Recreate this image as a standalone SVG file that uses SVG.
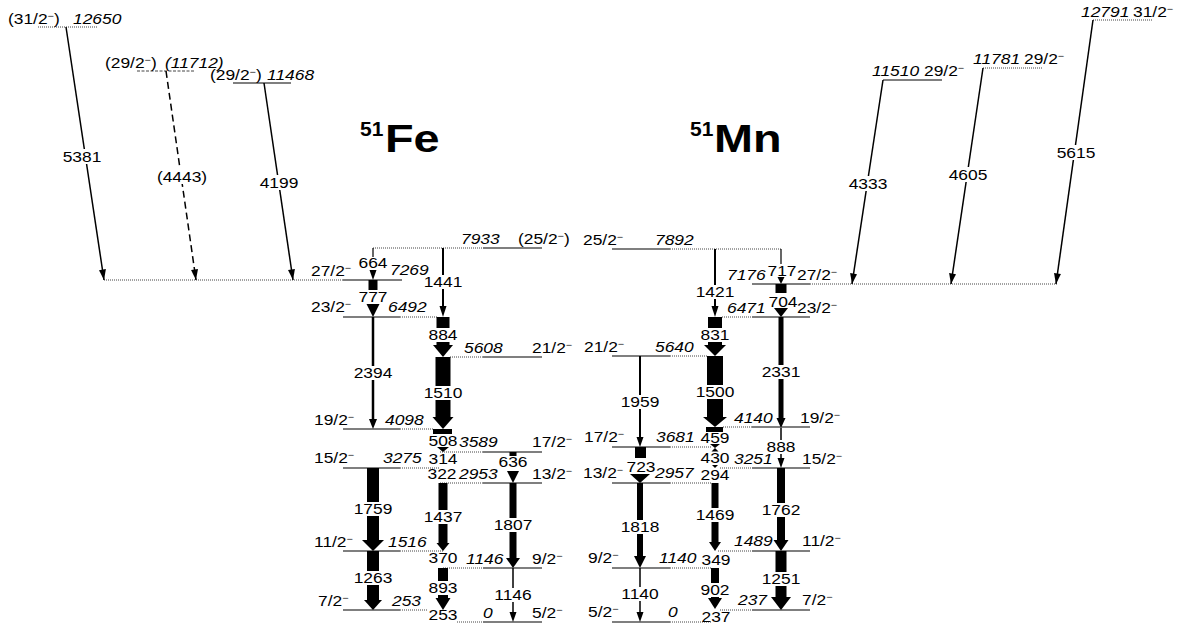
<svg xmlns="http://www.w3.org/2000/svg" width="1187" height="626" viewBox="0 0 1187 626">
<style>
.t{font-family:"Liberation Sans",Arial,sans-serif;font-size:14.5px;fill:#000}
.e{font-style:italic}
.m{text-anchor:middle}
.s{font-size:9px}
.ttl{font-family:"Liberation Sans",Arial,sans-serif;font-weight:bold;fill:#000}
.sl{stroke:#000;stroke-width:1.2;fill:none}
.dl{stroke:#444;stroke-width:1;stroke-dasharray:1 1;fill:none}
.dsh{stroke:#444;stroke-width:1;stroke-dasharray:3 1.5;fill:none}
.ln{stroke:#000;fill:none}
.bg{fill:#fff}
.k{fill:#000}
</style>
<defs>
<marker id="ah" viewBox="0 0 12 8" refX="12" refY="4" markerWidth="12" markerHeight="7" orient="auto" markerUnits="userSpaceOnUse"><path d="M0,0 L12,4 L0,8 z" fill="#000"/></marker>
</defs>
<rect width="1187" height="626" fill="#fff"/>

<g id="titles">
<text class="ttl" x="360" y="136" font-size="21">51</text>
<text class="ttl" font-size="39" transform="translate(385,152) scale(1.2,1)">Fe</text>
<text class="ttl" x="690" y="136" font-size="21">51</text>
<text class="ttl" font-size="39" transform="translate(714,152) scale(1.2,1)">Mn</text>
</g>

<!-- 51Fe levels -->
<g id="fe-12650"><line class="dl" x1="38" y1="27" x2="97" y2="27"/>
<text class="t" transform="translate(8,24) scale(1.2,1)">(31/2<tspan class="s" dy="-5">−</tspan><tspan dy="5">)</tspan></text>
<text class="t e" transform="translate(73,24) scale(1.2,1)">12650</text></g>
<g id="fe-11712"><line class="dsh" x1="137" y1="71" x2="195" y2="71"/>
<text class="t" transform="translate(105,68) scale(1.2,1)">(29/2<tspan class="s" dy="-5">−</tspan><tspan dy="5">)</tspan></text>
<text class="t e" transform="translate(165,68) scale(1.2,1)">(11712)</text></g>
<g id="fe-11468"><line class="sl" x1="233" y1="83" x2="291" y2="83"/>
<text class="t" transform="translate(210,80) scale(1.2,1)">(29/2<tspan class="s" dy="-5">−</tspan><tspan dy="5">)</tspan></text>
<text class="t e" transform="translate(267,80) scale(1.2,1)">11468</text></g>
<g id="fe-7933"><line class="dl" x1="373" y1="248" x2="483" y2="248"/><line class="sl" x1="483" y1="248" x2="542" y2="248"/>
<text class="t e" transform="translate(461,244) scale(1.2,1)">7933</text>
<text class="t" transform="translate(518,244) scale(1.2,1)">(25/2<tspan class="s" dy="-5">−</tspan><tspan dy="5">)</tspan></text></g>
<g id="fe-7269"><line class="dl" x1="104" y1="280" x2="343" y2="280"/><line class="sl" x1="343" y1="280" x2="402" y2="280"/>
<text class="t" transform="translate(311,276) scale(1.2,1)">27/2<tspan class="s" dy="-5">−</tspan></text>
<text class="t e" transform="translate(390,275) scale(1.2,1)">7269</text></g>
<g id="fe-6492"><line class="sl" x1="343" y1="317" x2="400" y2="317"/><line class="dl" x1="400" y1="317" x2="437" y2="317"/>
<text class="t" transform="translate(311,312) scale(1.2,1)">23/2<tspan class="s" dy="-5">−</tspan></text>
<text class="t e" transform="translate(388,312) scale(1.2,1)">6492</text></g>
<g id="fe-5608"><line class="dl" x1="450" y1="357" x2="483" y2="357"/><line class="sl" x1="483" y1="357" x2="542" y2="357"/>
<text class="t e" transform="translate(464,353) scale(1.2,1)">5608</text>
<text class="t" transform="translate(532,353) scale(1.2,1)">21/2<tspan class="s" dy="-5">−</tspan></text></g>
<g id="fe-4098"><line class="sl" x1="343" y1="429" x2="400" y2="429"/><line class="dl" x1="400" y1="429" x2="433" y2="429"/>
<text class="t" transform="translate(314,425) scale(1.2,1)">19/2<tspan class="s" dy="-5">−</tspan></text>
<text class="t e" transform="translate(385,425) scale(1.2,1)">4098</text></g>
<g id="fe-3589"><line class="dl" x1="440" y1="452" x2="483" y2="452"/><line class="sl" x1="483" y1="452" x2="542" y2="452"/>
<text class="t e" transform="translate(459,447) scale(1.2,1)">3589</text>
<text class="t" transform="translate(532,447) scale(1.2,1)">17/2<tspan class="s" dy="-5">−</tspan></text></g>
<g id="fe-3275"><line class="sl" x1="343" y1="468" x2="400" y2="468"/><line class="dl" x1="400" y1="468" x2="440" y2="468"/>
<text class="t" transform="translate(314,463) scale(1.2,1)">15/2<tspan class="s" dy="-5">−</tspan></text>
<text class="t e" transform="translate(383,463) scale(1.2,1)">3275</text></g>
<g id="fe-2953"><line class="dl" x1="440" y1="483" x2="483" y2="483"/><line class="sl" x1="483" y1="483" x2="542" y2="483"/>
<text class="t e" transform="translate(459,479) scale(1.2,1)">2953</text>
<text class="t" transform="translate(532,479) scale(1.2,1)">13/2<tspan class="s" dy="-5">−</tspan></text></g>
<g id="fe-1516"><line class="sl" x1="343" y1="551" x2="400" y2="551"/><line class="dl" x1="400" y1="551" x2="443" y2="551"/>
<text class="t" transform="translate(314,547) scale(1.2,1)">11/2<tspan class="s" dy="-5">−</tspan></text>
<text class="t e" transform="translate(388,547) scale(1.2,1)">1516</text></g>
<g id="fe-1146"><line class="dl" x1="443" y1="568" x2="483" y2="568"/><line class="sl" x1="483" y1="568" x2="542" y2="568"/>
<text class="t e" transform="translate(466,564) scale(1.2,1)">1146</text>
<text class="t" transform="translate(532,564) scale(1.2,1)">9/2<tspan class="s" dy="-5">−</tspan></text></g>
<g id="fe-253"><line class="sl" x1="343" y1="610" x2="400" y2="610"/><line class="dl" x1="400" y1="610" x2="428" y2="610"/>
<text class="t" transform="translate(318,606) scale(1.2,1)">7/2<tspan class="s" dy="-5">−</tspan></text>
<text class="t e" transform="translate(392,606) scale(1.2,1)">253</text></g>
<g id="fe-0"><line class="dl" x1="457" y1="622" x2="483" y2="622"/><line class="sl" x1="483" y1="622" x2="542" y2="622"/>
<text class="t e" transform="translate(483,618) scale(1.2,1)">0</text>
<text class="t" transform="translate(532,618) scale(1.2,1)">5/2<tspan class="s" dy="-5">−</tspan></text></g>

<!-- 51Mn levels -->
<g id="mn-11510"><line class="sl" x1="883" y1="80" x2="942" y2="80"/>
<text class="t e" transform="translate(872,76) scale(1.2,1)">11510</text>
<text class="t" transform="translate(924,76) scale(1.2,1)">29/2<tspan class="s" dy="-5">−</tspan></text></g>
<g id="mn-11781"><line class="dl" x1="983" y1="68" x2="1042" y2="68"/>
<text class="t e" transform="translate(973,64) scale(1.2,1)">11781</text>
<text class="t" transform="translate(1024,64) scale(1.2,1)">29/2<tspan class="s" dy="-5">−</tspan></text></g>
<g id="mn-12791"><line class="dl" x1="1093" y1="20" x2="1152" y2="20"/>
<text class="t e" transform="translate(1081,17) scale(1.2,1)">12791</text>
<text class="t" transform="translate(1133,17) scale(1.2,1)">31/2<tspan class="s" dy="-5">−</tspan></text></g>
<g id="mn-7892"><line class="sl" x1="612" y1="249" x2="670" y2="249"/><line class="dl" x1="670" y1="249" x2="781" y2="249"/>
<text class="t" transform="translate(583,245) scale(1.2,1)">25/2<tspan class="s" dy="-5">−</tspan></text>
<text class="t e" transform="translate(655,245) scale(1.2,1)">7892</text></g>
<g id="mn-7176"><line class="sl" x1="752" y1="284" x2="810" y2="284"/><line class="dl" x1="810" y1="284" x2="1057" y2="284"/>
<text class="t e" transform="translate(727,280) scale(1.2,1)">7176</text>
<text class="t" transform="translate(797,280) scale(1.2,1)">27/2<tspan class="s" dy="-5">−</tspan></text></g>
<g id="mn-6471"><line class="dl" x1="722" y1="317" x2="752" y2="317"/><line class="sl" x1="752" y1="317" x2="810" y2="317"/>
<text class="t e" transform="translate(727,313) scale(1.2,1)">6471</text>
<text class="t" transform="translate(797,313) scale(1.2,1)">23/2<tspan class="s" dy="-5">−</tspan></text></g>
<g id="mn-5640"><line class="sl" x1="612" y1="356" x2="670" y2="356"/><line class="dl" x1="670" y1="356" x2="707" y2="356"/>
<text class="t" transform="translate(584,352) scale(1.2,1)">21/2<tspan class="s" dy="-5">−</tspan></text>
<text class="t e" transform="translate(655,352) scale(1.2,1)">5640</text></g>
<g id="mn-4140"><line class="dl" x1="723" y1="427" x2="752" y2="427"/><line class="sl" x1="752" y1="427" x2="810" y2="427"/>
<text class="t e" transform="translate(734,423) scale(1.2,1)">4140</text>
<text class="t" transform="translate(800,423) scale(1.2,1)">19/2<tspan class="s" dy="-5">−</tspan></text></g>
<g id="mn-3681"><line class="sl" x1="612" y1="447" x2="670" y2="447"/><line class="dl" x1="670" y1="447" x2="712" y2="447"/>
<text class="t" transform="translate(584,442) scale(1.2,1)">17/2<tspan class="s" dy="-5">−</tspan></text>
<text class="t e" transform="translate(656,442) scale(1.2,1)">3681</text></g>
<g id="mn-3251"><line class="dl" x1="720" y1="468" x2="752" y2="468"/><line class="sl" x1="752" y1="468" x2="810" y2="468"/>
<text class="t e" transform="translate(734,464) scale(1.2,1)">3251</text>
<text class="t" transform="translate(802,464) scale(1.2,1)">15/2<tspan class="s" dy="-5">−</tspan></text></g>
<g id="mn-2957"><line class="sl" x1="612" y1="483" x2="670" y2="483"/><line class="dl" x1="670" y1="483" x2="712" y2="483"/>
<text class="t" transform="translate(583,478) scale(1.2,1)">13/2<tspan class="s" dy="-5">−</tspan></text>
<text class="t e" transform="translate(655,478) scale(1.2,1)">2957</text></g>
<g id="mn-1489"><line class="dl" x1="718" y1="551" x2="752" y2="551"/><line class="sl" x1="752" y1="551" x2="810" y2="551"/>
<text class="t e" transform="translate(734,546) scale(1.2,1)">1489</text>
<text class="t" transform="translate(802,546) scale(1.2,1)">11/2<tspan class="s" dy="-5">−</tspan></text></g>
<g id="mn-1140"><line class="sl" x1="612" y1="568" x2="670" y2="568"/><line class="dl" x1="670" y1="568" x2="712" y2="568"/>
<text class="t" transform="translate(588,563) scale(1.2,1)">9/2<tspan class="s" dy="-5">−</tspan></text>
<text class="t e" transform="translate(659,563) scale(1.2,1)">1140</text></g>
<g id="mn-237"><line class="dl" x1="720" y1="610" x2="752" y2="610"/><line class="sl" x1="752" y1="610" x2="810" y2="610"/>
<text class="t e" transform="translate(738,605) scale(1.2,1)">237</text>
<text class="t" transform="translate(802,605) scale(1.2,1)">7/2<tspan class="s" dy="-5">−</tspan></text></g>
<g id="mn-0"><line class="sl" x1="612" y1="622" x2="670" y2="622"/><line class="dl" x1="670" y1="622" x2="712" y2="622"/>
<text class="t" transform="translate(588,617) scale(1.2,1)">5/2<tspan class="s" dy="-5">−</tspan></text>
<text class="t e" transform="translate(668,617) scale(1.2,1)">0</text></g>

<g id="connectors">
<!-- long arrows -->
<line class="ln" stroke-width="1.5" x1="66" y1="27" x2="104" y2="280" marker-end="url(#ah)"/>
<rect class="bg" x="61" y="149" width="42" height="15"/>
<text class="t m" transform="translate(82,162) scale(1.2,1)">5381</text>
<line class="ln" stroke-width="1.5" stroke-dasharray="7 4" x1="166" y1="71" x2="196" y2="280" marker-end="url(#ah)"/>
<rect class="bg" x="155" y="169" width="54" height="15"/>
<text class="t m" transform="translate(182,182) scale(1.2,1)">(4443)</text>
<line class="ln" stroke-width="1.5" x1="264" y1="83" x2="293" y2="280" marker-end="url(#ah)"/>
<rect class="bg" x="258" y="175" width="42" height="15"/>
<text class="t m" transform="translate(279,188) scale(1.2,1)">4199</text>
<line class="ln" stroke-width="1.5" x1="883" y1="80" x2="852" y2="284" marker-end="url(#ah)"/>
<rect class="bg" x="847" y="176" width="42" height="15"/>
<text class="t m" transform="translate(868,189) scale(1.2,1)">4333</text>
<line class="ln" stroke-width="1.5" x1="983" y1="68" x2="951" y2="284" marker-end="url(#ah)"/>
<rect class="bg" x="947" y="167" width="42" height="15"/>
<text class="t m" transform="translate(968,180) scale(1.2,1)">4605</text>
<line class="ln" stroke-width="1.5" x1="1093" y1="20" x2="1056" y2="284" marker-end="url(#ah)"/>
<rect class="bg" x="1055" y="145" width="42" height="15"/>
<text class="t m" transform="translate(1076,158) scale(1.2,1)">5615</text>

<!-- 51Fe cascade x=373 -->
<line class="ln" stroke-width="1.2" x1="373" y1="248" x2="373" y2="257"/>
<text class="t m" transform="translate(373,268) scale(1.2,1)">664</text>
<polygon class="k" points="369.5,270 376.5,270 373,280"/>
<rect class="k" x="368.5" y="280" width="9" height="10"/>
<text class="t m" transform="translate(373,302) scale(1.2,1)">777</text>
<polygon class="k" points="366.5,304 379.5,304 373,317"/>
<line class="ln" stroke-width="2.5" x1="373" y1="317" x2="373" y2="420"/>
<rect class="bg" x="352" y="366" width="42" height="14"/>
<text class="t m" transform="translate(373,378) scale(1.2,1)">2394</text>
<polygon class="k" points="369,419 377,419 373,429"/>
<rect class="k" x="367" y="468" width="12" height="72"/>
<rect class="bg" x="352" y="502" width="42" height="14"/>
<text class="t m" transform="translate(373,514) scale(1.2,1)">1759</text>
<polygon class="k" points="362,540 384,540 373,551"/>
<rect class="k" x="367" y="551" width="12" height="49"/>
<rect class="bg" x="352" y="571" width="42" height="14"/>
<text class="t m" transform="translate(373,583) scale(1.2,1)">1263</text>
<polygon class="k" points="364,600 382,600 373,610"/>

<!-- 51Fe cascade x=443 -->
<line class="ln" stroke-width="2" x1="443" y1="248" x2="443" y2="307"/>
<rect class="bg" x="422" y="275" width="42" height="14"/>
<text class="t m" transform="translate(443,287) scale(1.2,1)">1441</text>
<polygon class="k" points="439.5,306 446.5,306 443,317"/>
<rect class="k" x="436.5" y="317" width="13" height="28"/>
<rect class="bg" x="427" y="328" width="32" height="14"/>
<text class="t m" transform="translate(443,340) scale(1.2,1)">884</text>
<polygon class="k" points="433,345 453,345 443,357"/>
<rect class="k" x="435.5" y="357" width="15" height="60"/>
<rect class="bg" x="422" y="386" width="42" height="14"/>
<text class="t m" transform="translate(443,398) scale(1.2,1)">1510</text>
<polygon class="k" points="432.5,417 453.5,417 443,429"/>
<rect class="k" x="433" y="429" width="19" height="5"/>
<text class="t m" transform="translate(443,446) scale(1.2,1)">508</text>
<polygon class="k" points="437,447 449,447 443,452"/>
<text class="t m" transform="translate(443,464) scale(1.2,1)">314</text>
<text class="t m" transform="translate(442,479) scale(1.2,1)">322</text>
<rect class="k" x="438.5" y="483" width="9" height="60"/>
<rect class="bg" x="422" y="510" width="42" height="14"/>
<text class="t m" transform="translate(443,522) scale(1.2,1)">1437</text>
<polygon class="k" points="436.5,543 449.5,543 443,551"/>
<text class="t m" transform="translate(443,563) scale(1.2,1)">370</text>
<rect class="k" x="438" y="568" width="10" height="30"/>
<rect class="bg" x="427" y="581" width="32" height="14"/>
<text class="t m" transform="translate(443,593) scale(1.2,1)">893</text>
<polygon class="k" points="435.5,598 450.5,598 443,610"/>
<text class="t m" transform="translate(443,620) scale(1.2,1)">253</text>

<!-- 51Fe cascade x=513 -->
<rect class="k" x="509.5" y="452" width="7" height="4"/>
<text class="t m" transform="translate(513,467) scale(1.2,1)">636</text>
<polygon class="k" points="507,471 519,471 513,483"/>
<rect class="k" x="509.5" y="483" width="7" height="75"/>
<rect class="bg" x="492" y="518" width="42" height="14"/>
<text class="t m" transform="translate(513,530) scale(1.2,1)">1807</text>
<polygon class="k" points="506,558 520,558 513,568"/>
<line class="ln" stroke-width="1.5" x1="513" y1="568" x2="513" y2="613"/>
<rect class="bg" x="492" y="588" width="42" height="14"/>
<text class="t m" transform="translate(513,600) scale(1.2,1)">1146</text>
<polygon class="k" points="509.5,612 516.5,612 513,622"/>

<!-- 51Mn cascade x=781 -->
<line class="ln" stroke-width="1.2" x1="781" y1="249" x2="781" y2="264"/>
<text class="t m" transform="translate(782,276) scale(1.2,1)">717</text>
<polygon class="k" points="777.5,277 784.5,277 781,284"/>
<rect class="k" x="775.5" y="284" width="11" height="9"/>
<text class="t m" transform="translate(783,307) scale(1.2,1)">704</text>
<polygon class="k" points="774,308 788,308 781,317"/>
<rect class="k" x="778.5" y="317" width="5" height="101"/>
<rect class="bg" x="760" y="365" width="42" height="14"/>
<text class="t m" transform="translate(781,377) scale(1.2,1)">2331</text>
<polygon class="k" points="776.5,418 785.5,418 781,428"/>
<line class="ln" stroke-width="1.5" x1="781" y1="428" x2="781" y2="459"/>
<rect class="bg" x="765" y="440" width="32" height="14"/>
<text class="t m" transform="translate(781,452) scale(1.2,1)">888</text>
<polygon class="k" points="777.5,458 784.5,458 781,468"/>
<rect class="k" x="777" y="468" width="8" height="72"/>
<rect class="bg" x="760" y="503" width="42" height="14"/>
<text class="t m" transform="translate(781,515) scale(1.2,1)">1762</text>
<polygon class="k" points="773.5,540 788.5,540 781,551"/>
<rect class="k" x="775.5" y="551" width="11" height="46"/>
<rect class="bg" x="760" y="572" width="42" height="14"/>
<text class="t m" transform="translate(781,584) scale(1.2,1)">1251</text>
<polygon class="k" points="771,597 791,597 781,610"/>

<!-- 51Mn cascade x=715 -->
<line class="ln" stroke-width="2" x1="715" y1="249" x2="715" y2="307"/>
<rect class="bg" x="694" y="285" width="42" height="14"/>
<text class="t m" transform="translate(715,297) scale(1.2,1)">1421</text>
<polygon class="k" points="711.5,306 718.5,306 715,317"/>
<rect class="k" x="708" y="317" width="14" height="28"/>
<rect class="bg" x="699" y="328" width="32" height="14"/>
<text class="t m" transform="translate(715,340) scale(1.2,1)">831</text>
<polygon class="k" points="704,345 726,345 715,356"/>
<rect class="k" x="707" y="356" width="16" height="61"/>
<rect class="bg" x="694" y="385" width="42" height="14"/>
<text class="t m" transform="translate(715,397) scale(1.2,1)">1500</text>
<polygon class="k" points="703,417 727,417 715,427"/>
<rect class="k" x="706" y="427" width="17" height="5"/>
<text class="t m" transform="translate(715,443) scale(1.2,1)">459</text>
<polygon class="k" points="710,444 720,444 715,448"/>
<polygon class="k" points="715,448 711.5,451.5 718.5,451.5"/>
<text class="t m" transform="translate(715,463) scale(1.2,1)">430</text>
<polygon class="k" points="712,465 718,465 715,468"/>
<text class="t m" transform="translate(715,480) scale(1.2,1)">294</text>
<rect class="k" x="711.5" y="483" width="7" height="59"/>
<rect class="bg" x="694" y="508" width="42" height="14"/>
<text class="t m" transform="translate(715,520) scale(1.2,1)">1469</text>
<polygon class="k" points="709,542 721,542 715,551"/>
<text class="t m" transform="translate(716,565) scale(1.2,1)">349</text>
<rect class="k" x="711" y="568" width="8" height="30"/>
<rect class="bg" x="699" y="583" width="32" height="14"/>
<text class="t m" transform="translate(715,595) scale(1.2,1)">902</text>
<polygon class="k" points="708,598 722,598 715,609"/>
<text class="t m" transform="translate(716,622) scale(1.2,1)">237</text>

<!-- 51Mn cascade x=640 -->
<line class="ln" stroke-width="2" x1="640" y1="356" x2="640" y2="438"/>
<rect class="bg" x="619" y="395" width="42" height="14"/>
<text class="t m" transform="translate(640,407) scale(1.2,1)">1959</text>
<polygon class="k" points="636.5,437 643.5,437 640,447"/>
<rect class="k" x="635" y="447" width="11" height="11"/>
<text class="t m" transform="translate(641,472) scale(1.2,1)">723</text>
<polygon class="k" points="630,474 650,474 640,483"/>
<rect class="k" x="637" y="483" width="6" height="73"/>
<rect class="bg" x="619" y="520" width="42" height="14"/>
<text class="t m" transform="translate(640,532) scale(1.2,1)">1818</text>
<polygon class="k" points="634,556 646,556 640,568"/>
<line class="ln" stroke-width="1.5" x1="640" y1="568" x2="640" y2="613"/>
<rect class="bg" x="619" y="587" width="42" height="14"/>
<text class="t m" transform="translate(640,599) scale(1.2,1)">1140</text>
<polygon class="k" points="636.5,612 643.5,612 640,622"/>
</g>
</svg>
